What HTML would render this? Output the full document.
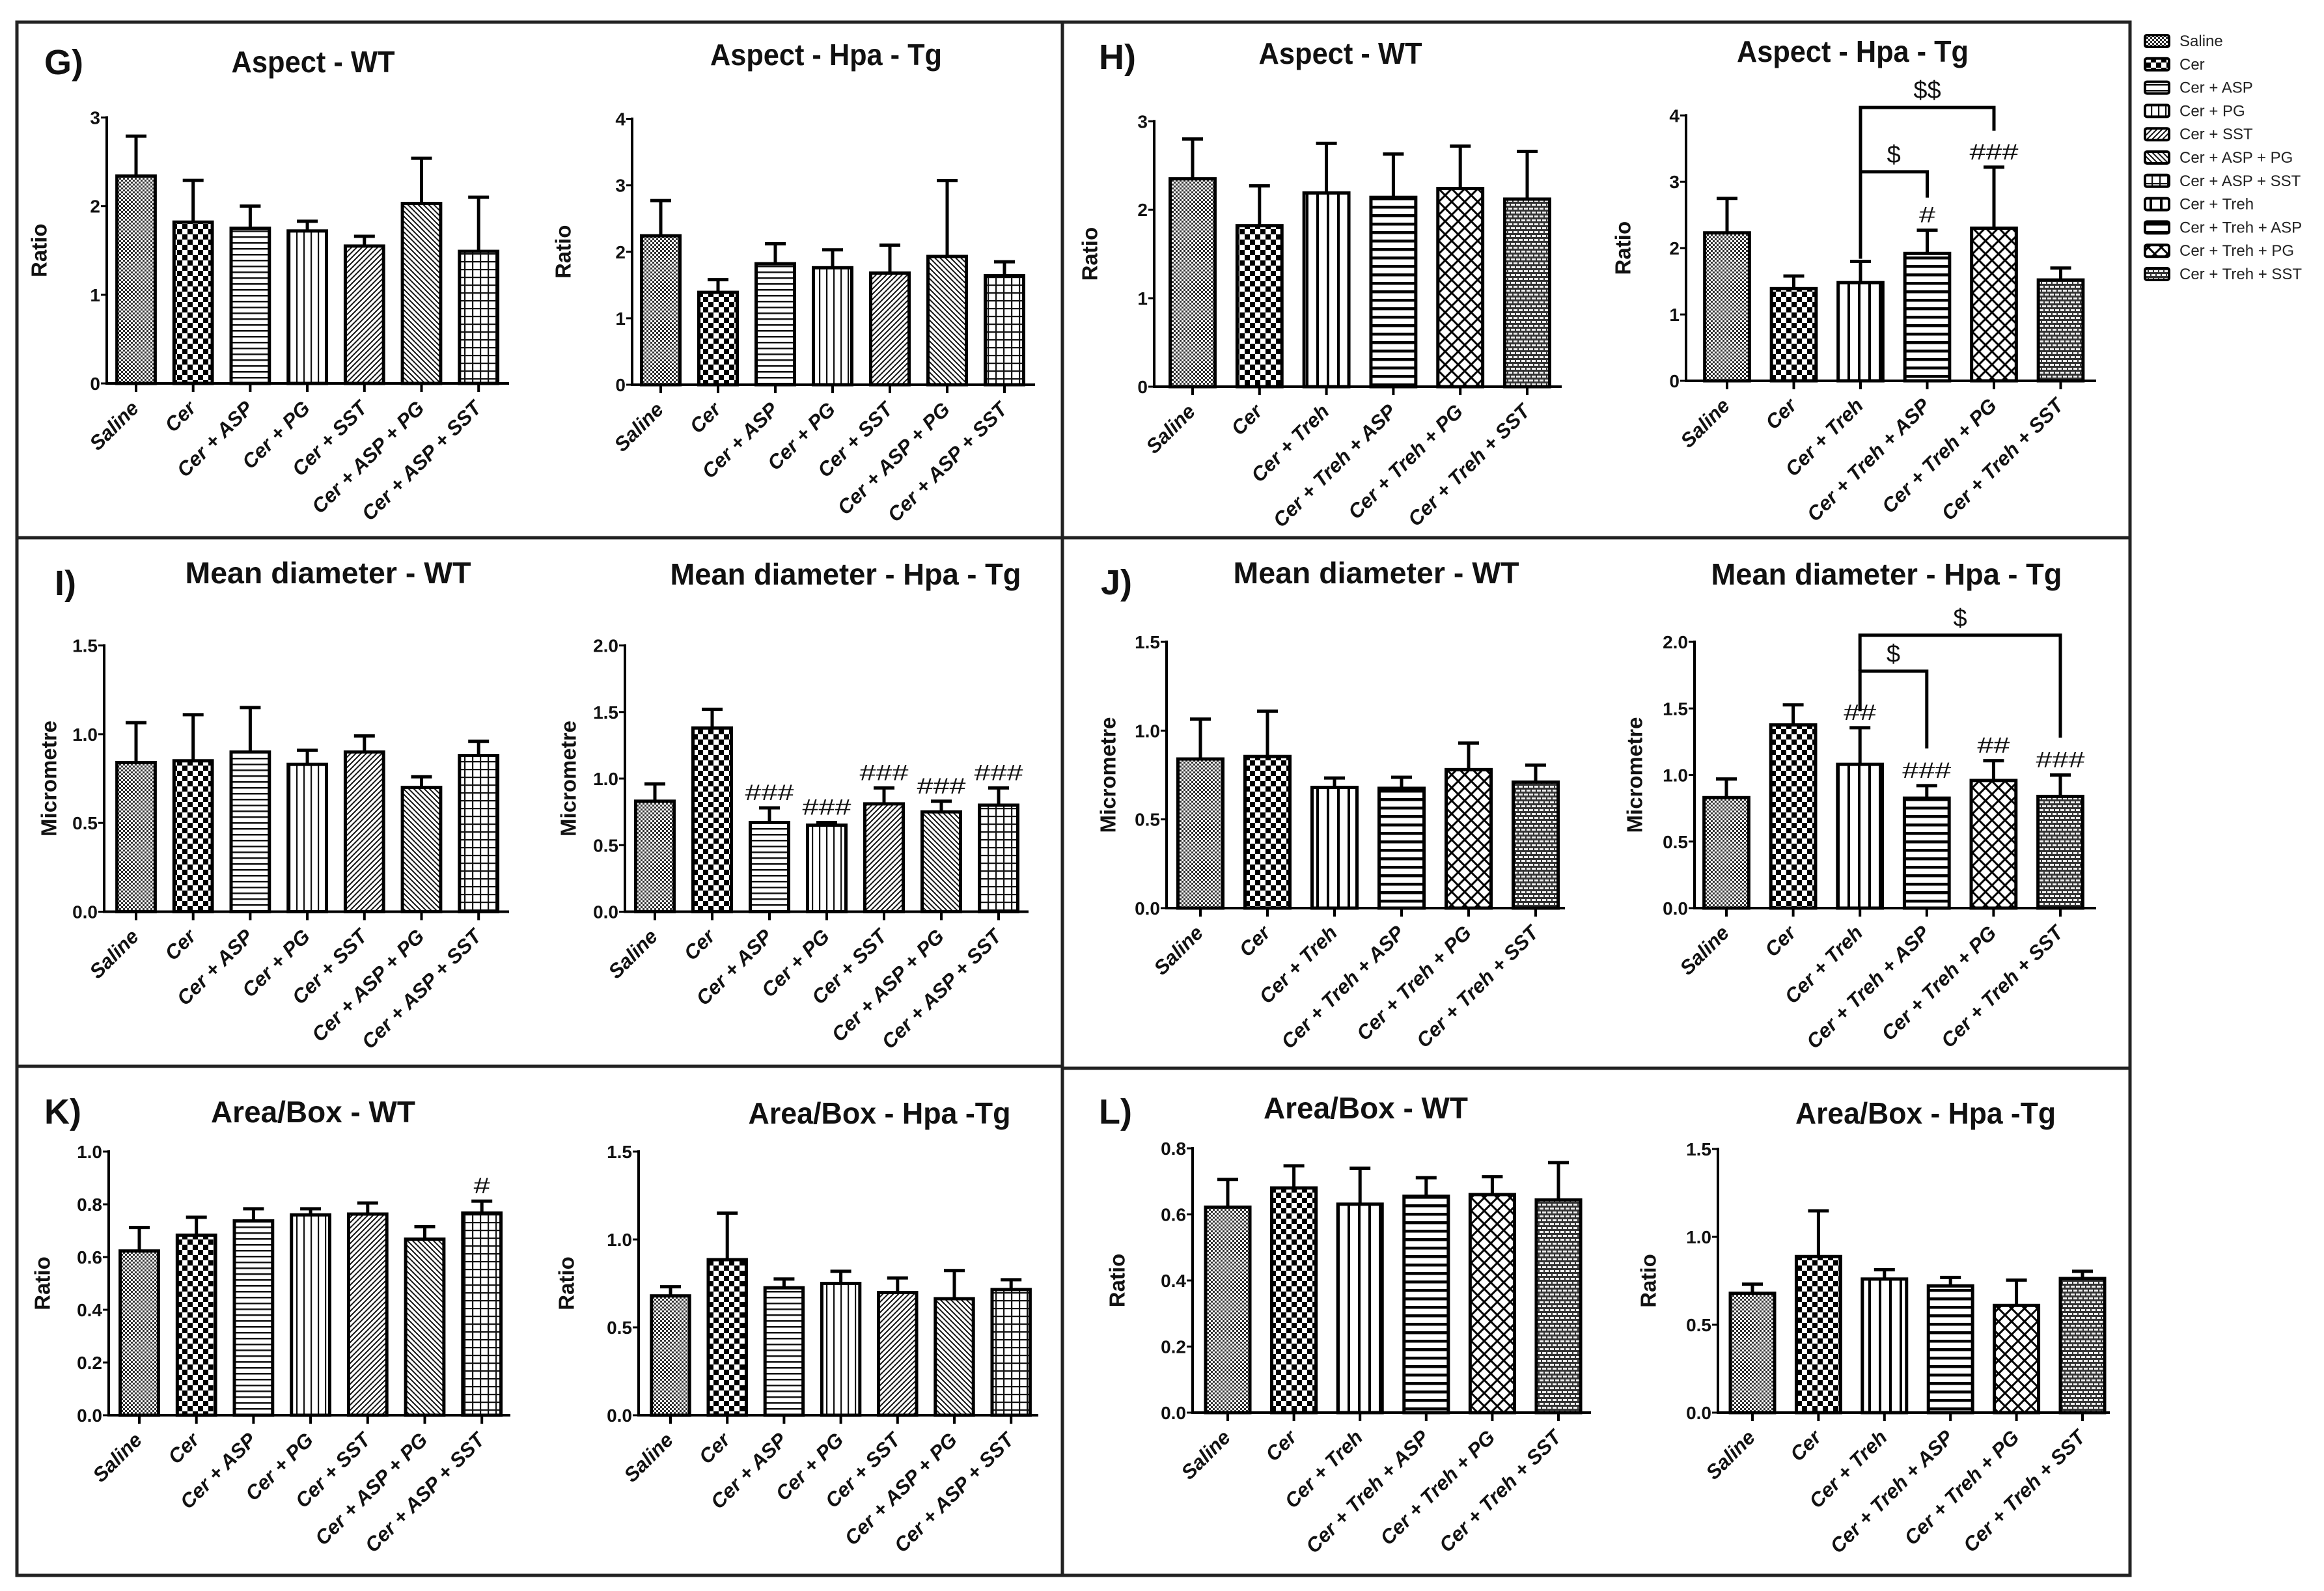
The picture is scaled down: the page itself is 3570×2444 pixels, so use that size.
<!DOCTYPE html>
<html><head><meta charset="utf-8">
<style>
html,body{margin:0;padding:0;background:#fff;}
svg{display:block;}
text{font-family:"Liberation Sans",Arial,sans-serif;}
</style></head>
<body>
<svg id="fig" width="3570" height="2444" viewBox="0 0 3570 2444" xmlns="http://www.w3.org/2000/svg">
<defs>
<pattern id="p-saline" patternUnits="userSpaceOnUse" width="6" height="6"><rect width="6" height="6" fill="#fff"/><rect x="0" y="0" width="3" height="3" fill="#333"/><rect x="3" y="3" width="3" height="3" fill="#333"/></pattern>
<pattern id="p-cer" patternUnits="userSpaceOnUse" width="16" height="16"><rect width="16" height="16" fill="#fff"/><rect width="8" height="8" fill="#000"/><rect x="8" y="8" width="8" height="8" fill="#000"/></pattern>
<pattern id="p-asp" patternUnits="userSpaceOnUse" width="10" height="9"><rect width="10" height="9" fill="#fff"/><rect y="3" width="10" height="2.5" fill="#111"/></pattern>
<pattern id="p-pg" patternUnits="userSpaceOnUse" width="11" height="10"><rect width="11" height="10" fill="#fff"/><rect x="4" width="2.2" height="10" fill="#111"/></pattern>
<pattern id="p-sst" patternUnits="userSpaceOnUse" width="8" height="8"><rect width="8" height="8" fill="#fff"/><path d="M-2,10 L10,-2 M-2,2 L2,-2 M6,10 L10,6" stroke="#111" stroke-width="2"/></pattern>
<pattern id="p-asppg" patternUnits="userSpaceOnUse" width="8" height="8"><rect width="8" height="8" fill="#fff"/><path d="M-2,-2 L10,10 M6,-2 L10,2 M-2,6 L2,10" stroke="#111" stroke-width="2"/></pattern>
<pattern id="p-aspsst" patternUnits="userSpaceOnUse" width="12" height="12"><rect width="12" height="12" fill="#fff"/><rect y="5" width="12" height="2.2" fill="#111"/><rect x="5" width="2.2" height="12" fill="#111"/></pattern>
<pattern id="p-treh" patternUnits="userSpaceOnUse" width="16" height="10"><rect width="16" height="10" fill="#fff"/><rect x="6" width="4" height="10" fill="#000"/></pattern>
<pattern id="p-trehasp" patternUnits="userSpaceOnUse" width="10" height="13"><rect width="10" height="13" fill="#fff"/><rect y="4" width="10" height="4.5" fill="#000"/></pattern>
<pattern id="p-trehpg" patternUnits="userSpaceOnUse" width="20" height="20"><rect width="20" height="20" fill="#fff"/><path d="M-5,-5 L25,25 M-5,15 L5,25 M15,-5 L25,5 M25,-5 L-5,25 M5,-5 L-5,5 M25,15 L15,25" stroke="#000" stroke-width="3"/></pattern>
<pattern id="p-trehsst" patternUnits="userSpaceOnUse" width="16" height="12"><rect width="16" height="12" fill="#333"/><rect x="1" y="1" width="6" height="3" fill="#eee"/><rect x="9" y="1" width="6" height="3" fill="#eee"/><rect x="-3" y="7" width="6" height="3" fill="#eee"/><rect x="5" y="7" width="6" height="3" fill="#eee"/><rect x="13" y="7" width="6" height="3" fill="#eee"/></pattern>
</defs>
<g id="frame" stroke="#222" stroke-width="5" fill="none">
<path d="M26,34 L3272,34 L3272,2420 L26,2420 Z"/>
<path d="M1632,34 L1632,2420"/>
<path d="M26,826 L3272,826"/>
<path d="M26,1638 L1632,1638 M1632,1641 L3272,1641"/>
</g>
</svg>
<script>
// ---------- categories ----------
const catsAsp = ["Saline","Cer","Cer + ASP","Cer + PG","Cer + SST","Cer + ASP + PG","Cer + ASP + SST"];
const catsTreh = ["Saline","Cer","Cer + Treh","Cer + Treh + ASP","Cer + Treh + PG","Cer + Treh + SST"];
// ---------- tick arrays ----------
const ticksAspectWT = [0,1,2,3];
const tickLabelsAspectWT = ["0","1","2","3"];
const ticksAspectTg = [0,1,2,3,4];
const tickLabelsAspectTg = ["0","1","2","3","4"];
const ticksDiamWT = [0,0.5,1.0,1.5];
const tickLabelsDiamWT = ["0.0","0.5","1.0","1.5"];
const ticksDiamTg = [0,0.5,1.0,1.5,2.0];
const tickLabelsDiamTg = ["0.0","0.5","1.0","1.5","2.0"];
const ticksAreaK1 = [0,0.2,0.4,0.6,0.8,1.0];
const tickLabelsAreaK1 = ["0.0","0.2","0.4","0.6","0.8","1.0"];
const ticksAreaL1 = [0,0.2,0.4,0.6,0.8];
const tickLabelsAreaL1 = ["0.0","0.2","0.4","0.6","0.8"];
const ticksArea15 = [0,0.5,1.0,1.5];
const tickLabelsArea15 = ["0.0","0.5","1.0","1.5"];
// ---------- series values (mean) and error (SD) ----------
const g1Mean = [2.34,1.82,1.75,1.72,1.55,2.03,1.49];
const g1Err  = [0.45,0.47,0.25,0.11,0.11,0.51,0.61];
const g2Mean = [2.24,1.39,1.82,1.76,1.68,1.93,1.64];
const g2Err  = [0.53,0.19,0.30,0.27,0.42,1.14,0.21];
const h1Mean = [2.35,1.82,2.19,2.14,2.24,2.12];
const h1Err  = [0.45,0.45,0.56,0.49,0.48,0.54];
const h2Mean = [2.23,1.39,1.48,1.92,2.30,1.52];
const h2Err  = [0.52,0.19,0.32,0.35,0.92,0.18];
const i1Mean = [0.84,0.85,0.90,0.83,0.90,0.70,0.88];
const i1Err  = [0.225,0.26,0.25,0.08,0.09,0.06,0.08];
const i2Mean = [0.83,1.38,0.67,0.65,0.81,0.75,0.80];
const i2Err  = [0.13,0.14,0.11,0.02,0.12,0.08,0.13];
const j1Mean = [0.84,0.854,0.68,0.675,0.78,0.71];
const j1Err  = [0.225,0.256,0.053,0.062,0.15,0.096];
const j2Mean = [0.83,1.376,1.08,0.826,0.959,0.839];
const j2Err  = [0.14,0.151,0.275,0.094,0.148,0.161];
const k1Mean = [0.623,0.683,0.737,0.76,0.763,0.668,0.767];
const k1Err  = [0.089,0.068,0.046,0.023,0.042,0.047,0.045];
const k2Mean = [0.679,0.885,0.725,0.75,0.698,0.663,0.715];
const k2Err  = [0.052,0.265,0.05,0.069,0.083,0.16,0.056];
const l1Mean = [0.622,0.68,0.631,0.655,0.66,0.644];
const l1Err  = [0.084,0.067,0.109,0.056,0.054,0.113];
const l2Mean = [0.679,0.888,0.76,0.721,0.61,0.763];
const l2Err  = [0.052,0.26,0.053,0.048,0.144,0.041];
// ---------- significance marks ----------
const h2Marks = ["","","","#","###",""];
const i2Marks = ["","","###","###","###","###","###"];
const j2Marks = ["","","##","###","##","###"];
const k1Marks = ["","","","","","","#"];
const h2Brackets = [[2,3,3.15,1.84,2.76,"$"],[2,4,4.12,3.15,3.77,"$$"]];
const j2Brackets = [[2,3,1.78,1.48,1.20,"$"],[2,5,2.05,1.78,1.28,"$"]];

const patsAsp = ["saline","cer","asp","pg","sst","asppg","aspsst"];
const patsTreh = ["saline","cer","treh","trehasp","trehpg","trehsst"];

const NS = "http://www.w3.org/2000/svg";
const svg = document.getElementById("fig");
function mk(tag, attrs, parent){
  const e = document.createElementNS(NS, tag);
  for (const k in attrs) e.setAttribute(k, attrs[k]);
  (parent||svg).appendChild(e);
  return e;
}

function chart(c){
  const g = mk("g", {});
  
  
  const yScale = v => c.y0 - (v / c.ymax) * (c.y0 - c.yt);
  const xPos = i => c.x0 + i * c.dx;
  const bw = c.dx * 0.67;
  const t = mk("text", {x:c.tx, y:c.ty, "text-anchor":"middle", "font-size":46, "font-weight":"bold", textLength:c.tw, lengthAdjust:"spacingAndGlyphs", fill:"#111"}, g);
  t.textContent = c.title;
  
  
  const ym = (c.y0 + c.yt) / 2;
  const yl = mk("text", {x:c.ylx, y:ym, "text-anchor":"middle", "font-size":33, "font-weight":"bold", transform:"rotate(-90 "+c.ylx+" "+ym+")", fill:"#111", "dominant-baseline":"middle"}, g);
  yl.textContent = c.ylabel;
  
  
  c.mean.forEach((m, i) => {
    const cx = xPos(i), top = yScale(m);
    const r = mk("rect", {x:cx - bw/2, y:top, width:bw, height:c.y0 - top, fill:"url(#p-" + c.pats[i] + ")", stroke:"#000", "stroke-width":5}, g);
    
    
    const et = yScale(m + c.err[i]);
    const eb = mk("path", {d:"M"+cx+","+top+" L"+cx+","+et+" M"+(cx-16)+","+et+" L"+(cx+16)+","+et, stroke:"#000", "stroke-width":5, fill:"none"}, g);
    
    
    if (c.marks && c.marks[i]) {
      const mt = mk("text", {x:cx, y:et - 12, "text-anchor":"middle", "font-size":34, "font-family":"Liberation Serif, serif", textLength:c.marks[i].length * 25, lengthAdjust:"spacingAndGlyphs", fill:"#111"}, g);
      mt.textContent = c.marks[i];
      
      
    }
    mk("line", {x1:cx, y1:c.y0, x2:cx, y2:c.y0 + 13, stroke:"#000", "stroke-width":4}, g);
    const lx = cx + 6, ly = c.y0 + 40;
    const xl = mk("text", {x:lx, y:ly, "text-anchor":"end", "font-size":31, "font-weight":"bold", "font-style":"italic", transform:"rotate(-45 "+lx+" "+ly+")", fill:"#111"}, g);
    xl.textContent = c.cats[i];
    
    
  });
  const ax = mk("path", {d:"M"+c.ax+","+(c.yt-2)+" L"+c.ax+","+c.y0+" L"+c.xe+","+c.y0, stroke:"#000", "stroke-width":4, fill:"none"}, g);
  
  
  c.ticks.forEach((v, k) => {
    const y = yScale(v);
    mk("line", {x1:c.ax - 9, y1:y, x2:c.ax, y2:y, stroke:"#000", "stroke-width":3}, g);
    const tl = mk("text", {x:c.ax - 10, y:y + 10, "text-anchor":"end", "font-size":28, "font-weight":"bold", fill:"#111"}, g);
    tl.textContent = c.tickLabels[k];
    
    
  });
  (c.brackets || []).forEach(b => {
    const xa = xPos(b[0]), xb = xPos(b[1]), yb = yScale(b[2]);
    const p = mk("path", {d:"M"+xa+","+yScale(b[3])+" L"+xa+","+yb+" L"+xb+","+yb+" L"+xb+","+yScale(b[4]), stroke:"#000", "stroke-width":5, fill:"none"}, g);
    
    
    const bt = mk("text", {x:(xa + xb)/2, y:yb - 14, "text-anchor":"middle", "font-size":38, fill:"#111"}, g);
    bt.textContent = b[5];
    
    
  });
}

chart({name:"chart-g-aspect-wt", title:"Aspect - WT", tx:481, ty:111, tw:251, ylabel:"Ratio", ylx:63, ax:164, y0:589, yt:180.5, ymax:3, x0:209, dx:87.7, xe:782, cats:catsAsp, pats:patsAsp, mean:g1Mean, err:g1Err, ticks:ticksAspectWT, tickLabels:tickLabelsAspectWT});
chart({name:"chart-g-aspect-tg", title:"Aspect - Hpa - Tg", tx:1269, ty:100, tw:356, ylabel:"Ratio", ylx:868, ax:971, y0:591, yt:182.6, ymax:4, x0:1015, dx:88, xe:1590, cats:catsAsp, pats:patsAsp, mean:g2Mean, err:g2Err, ticks:ticksAspectTg, tickLabels:tickLabelsAspectTg});
chart({name:"chart-h-aspect-wt", title:"Aspect - WT", tx:2059, ty:98, tw:251, ylabel:"Ratio", ylx:1677, ax:1773, y0:594, yt:186.3, ymax:3, x0:1832, dx:102.8, xe:2399, cats:catsTreh, pats:patsTreh, mean:h1Mean, err:h1Err, ticks:ticksAspectWT, tickLabels:tickLabelsAspectWT});
chart({name:"chart-h-aspect-tg", title:"Aspect - Hpa - Tg", tx:2846, ty:95, tw:356, ylabel:"Ratio", ylx:2496, ax:2590, y0:585, yt:177.3, ymax:4, x0:2653, dx:102.5, xe:3220, cats:catsTreh, pats:patsTreh, mean:h2Mean, err:h2Err, ticks:ticksAspectTg, tickLabels:tickLabelsAspectTg, marks:h2Marks, brackets:h2Brackets});
chart({name:"chart-i-diameter-wt", title:"Mean diameter - WT", tx:504, ty:896, tw:439, ylabel:"Micrometre", ylx:78, ax:160, y0:1400.5, yt:991.5, ymax:1.5, x0:209, dx:87.7, xe:782, cats:catsAsp, pats:patsAsp, mean:i1Mean, err:i1Err, ticks:ticksDiamWT, tickLabels:tickLabelsDiamWT});
chart({name:"chart-i-diameter-tg", title:"Mean diameter - Hpa - Tg", tx:1299, ty:898, tw:539, ylabel:"Micrometre", ylx:876, ax:960, y0:1400.5, yt:991.5, ymax:2, x0:1006, dx:88, xe:1580, cats:catsAsp, pats:patsAsp, mean:i2Mean, err:i2Err, ticks:ticksDiamTg, tickLabels:tickLabelsDiamTg, marks:i2Marks});
chart({name:"chart-j-diameter-wt", title:"Mean diameter - WT", tx:2114, ty:896, tw:439, ylabel:"Micrometre", ylx:1705, ax:1792, y0:1395, yt:986, ymax:1.5, x0:1844, dx:103, xe:2404, cats:catsTreh, pats:patsTreh, mean:j1Mean, err:j1Err, ticks:ticksDiamWT, tickLabels:tickLabelsDiamWT});
chart({name:"chart-j-diameter-tg", title:"Mean diameter - Hpa - Tg", tx:2898, ty:898, tw:539, ylabel:"Micrometre", ylx:2514, ax:2603, y0:1395, yt:986, ymax:2, x0:2652, dx:102.6, xe:3220, cats:catsTreh, pats:patsTreh, mean:j2Mean, err:j2Err, ticks:ticksDiamTg, tickLabels:tickLabelsDiamTg, marks:j2Marks, brackets:j2Brackets});
chart({name:"chart-k-area-wt", title:"Area/Box - WT", tx:481, ty:1724, tw:314, ylabel:"Ratio", ylx:68, ax:167, y0:2174, yt:1769, ymax:1.0, x0:214, dx:87.7, xe:784, cats:catsAsp, pats:patsAsp, mean:k1Mean, err:k1Err, ticks:ticksAreaK1, tickLabels:tickLabelsAreaK1, marks:k1Marks});
chart({name:"chart-k-area-tg", title:"Area/Box - Hpa -Tg", tx:1351, ty:1726, tw:403, ylabel:"Ratio", ylx:873, ax:981, y0:2174, yt:1769, ymax:1.5, x0:1030, dx:87.2, xe:1595, cats:catsAsp, pats:patsAsp, mean:k2Mean, err:k2Err, ticks:ticksArea15, tickLabels:tickLabelsArea15});
chart({name:"chart-l-area-wt", title:"Area/Box - WT", tx:2098, ty:1718, tw:314, ylabel:"Ratio", ylx:1719, ax:1832, y0:2170, yt:1764, ymax:0.8, x0:1886, dx:101.6, xe:2444, cats:catsTreh, pats:patsTreh, mean:l1Mean, err:l1Err, ticks:ticksAreaL1, tickLabels:tickLabelsAreaL1});
chart({name:"chart-l-area-tg", title:"Area/Box - Hpa -Tg", tx:2958, ty:1726, tw:400, ylabel:"Ratio", ylx:2535, ax:2639, y0:2170, yt:1765, ymax:1.5, x0:2692, dx:101.4, xe:3241, cats:catsTreh, pats:patsTreh, mean:l2Mean, err:l2Err, ticks:ticksArea15, tickLabels:tickLabelsArea15});

const panelLetters = ["G)","H)","I)","J)","K)","L)"];
const letterPos = [[68,114],[1688,106],[84,914],[1691,913],[68,1726],[1688,1726]];
panelLetters.forEach((s, i) => {
  const t = mk("text", {x:letterPos[i][0], y:letterPos[i][1], "font-size":54, "font-weight":"bold", fill:"#111"});
  t.textContent = s;
  
  
});

const legendLabels = ["Saline","Cer","Cer + ASP","Cer + PG","Cer + SST","Cer + ASP + PG","Cer + ASP + SST","Cer + Treh","Cer + Treh + ASP","Cer + Treh + PG","Cer + Treh + SST"];
const legendPats = ["saline","cer","asp","pg","sst","asppg","aspsst","treh","trehasp","trehpg","trehsst"];
const lg = mk("g", {});


legendLabels.forEach((s, i) => {
  const y = 63 + i * 35.8;
  const sw = mk("rect", {x:3295, y:y - 9, width:37, height:18, rx:3, fill:"url(#p-" + legendPats[i] + ")", stroke:"#000", "stroke-width":4}, lg);
  
  
  const t = mk("text", {x:3348, y:y + 8, "font-size":24, fill:"#222"}, lg);
  t.textContent = s;
  
  
});
</script>
</body></html>
